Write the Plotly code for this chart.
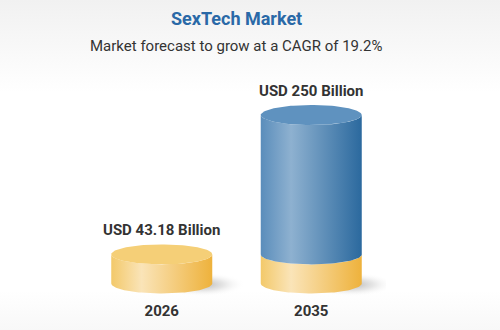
import numpy as np
import plotly.graph_objects as go

# ---- data ----
years = ["2026", "2035"]
market_values = [43.18, 250.0]          # USD billion
value_labels = ["USD 43.18 Billion", "USD 250 Billion"]
title_text = "SexTech Market"
subtitle_text = "Market forecast to grow at a CAGR of 19.2%"

# ---- styling ----
GOLD_BODY = [[0, "#f3c96a"], [0.3, "#fae4b8"], [1, "#eeb23c"]]
GOLD_TOP = "#f5cf77"
BLUE_BODY = [[0, "#5a8dbb"], [0.3, "#8eb1d0"], [1, "#2b699e"]]
BLUE_TOP = "#5f92bf"
TEXT = "#333333"

W, H = 500, 330
x_dom = [87 / W, 386 / W]
y_dom = [30 / H, 270 / H]
x_rng = [-0.5, 1.5]
y_rng = [-24.5, 331.6]

px_per_y = (y_dom[1] - y_dom[0]) * H / (y_rng[1] - y_rng[0])
px_per_x = (x_dom[1] - x_dom[0]) * W / (x_rng[1] - x_rng[0])
RY = 10 / px_per_y          # ellipse half-height in data units
A = 50.5 / px_per_x         # cylinder half-width in data units

fig = go.Figure()

# background gradient (full paper, on its own axes)
fig.add_trace(go.Scatter(
    x=[0, 1, 1, 0, 0], y=[0, 0, 1, 1, 0], mode="lines", line=dict(width=0),
    fill="toself",
    fillgradient=dict(type="vertical", start=0, stop=1,
                      colorscale=[[0, "#f8f8f8"], [0.12, "#ffffff"], [0.72, "#ffffff"], [1, "#f1f1f1"]]),
    hoverinfo="skip", showlegend=False, xaxis="x", yaxis="y"))

t_full = np.linspace(0, 2 * np.pi, 121)
t_front = np.linspace(np.pi, 2 * np.pi, 61)


def ellipse(xc, yc, a, b):
    return xc + a * np.cos(t_full), yc + b * np.sin(t_full)


def body(xc, y0, y1):
    xb = xc + A * np.cos(t_front)
    yb = y0 + RY * np.sin(t_front)
    xt = (xc + A * np.cos(t_front))[::-1]
    yt = (y1 + RY * np.sin(t_front))[::-1]
    xs = np.concatenate([xb, xt, xb[:1]])
    ys = np.concatenate([yb, yt, yb[:1]])
    return xs, ys


def add_poly(xs, ys, **kw):
    fig.add_trace(go.Scatter(x=xs, y=ys, mode="lines", line=dict(width=0),
                             fill="toself", hoverinfo="skip", showlegend=False,
                             xaxis="x2", yaxis="y2", **kw))


base = market_values[0]
for i, v in enumerate(market_values):
    # soft shadow
    sx, sy = ellipse(i + A * 0.8, -1 / px_per_y, A * 0.85, 12 / px_per_y)
    add_poly(sx, sy, fillgradient=dict(type="radial",
             colorscale=[[0, "rgba(130,130,130,0.6)"], [0.5, "rgba(170,170,170,0.3)"], [1, "rgba(255,255,255,0)"]]))
    gold_top = min(v, base)
    xs, ys = body(i, 0, gold_top)
    add_poly(xs, ys, fillgradient=dict(type="horizontal", colorscale=GOLD_BODY))
    if v > base:
        xs, ys = body(i, gold_top, v)
        add_poly(xs, ys, fillgradient=dict(type="horizontal", colorscale=BLUE_BODY))
        ex, ey = ellipse(i, v, A, RY)
        add_poly(ex, ey, fillcolor=BLUE_TOP)
    else:
        ex, ey = ellipse(i, v, A, RY)
        add_poly(ex, ey, fillcolor=GOLD_TOP)
    fig.add_annotation(x=i, y=v, xref="x2", yref="y2", text="<b>%s</b>" % value_labels[i],
                       showarrow=False, yanchor="middle", yshift=24,
                       font=dict(family="Roboto", size=15, color=TEXT))

fig.add_annotation(x=236 / W, y=1 - 18 / H, xref="paper", yref="paper",
                   text="<b>%s</b>" % title_text, showarrow=False, yanchor="middle",
                   font=dict(family="Roboto", size=18, color="#2a69a7"))
fig.add_annotation(x=236 / W, y=1 - 46 / H, xref="paper", yref="paper",
                   text=subtitle_text, showarrow=False, yanchor="middle",
                   font=dict(family="Roboto", size=15, color=TEXT))

fig.update_layout(
    width=W, height=H, margin=dict(l=0, r=0, t=0, b=0),
    paper_bgcolor="#ffffff", plot_bgcolor="rgba(0,0,0,0)",
    xaxis=dict(domain=[0, 1], range=[0, 1], visible=False, fixedrange=True),
    yaxis=dict(domain=[0, 1], range=[0, 1], visible=False, fixedrange=True),
    xaxis2=dict(domain=x_dom, range=x_rng, anchor="y2", showgrid=False, zeroline=False,
                showline=False, ticks="", tickvals=list(range(len(years))), ticktext=["<b>%s</b>" % y for y in years],
                tickfont=dict(family="Roboto", size=15, color=TEXT), fixedrange=True),
    yaxis2=dict(domain=y_dom, range=y_rng, anchor="x2", visible=False, fixedrange=True),
    showlegend=False,
)

fig.write_html("out.html", config={"displayModeBar": False})
